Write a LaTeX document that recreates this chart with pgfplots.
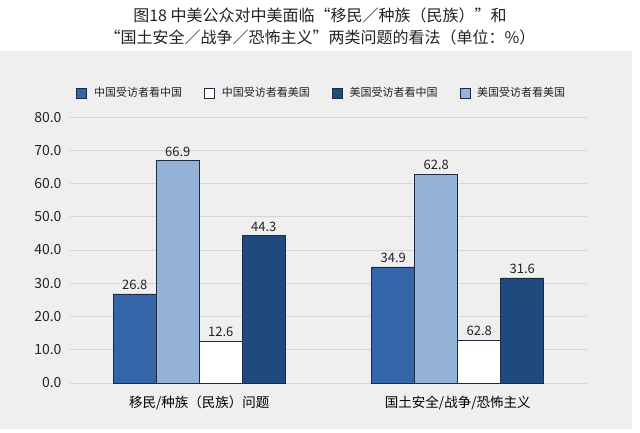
\documentclass[border=0pt]{standalone}
\usepackage{fontspec}
\setmainfont{Noto Sans CJK SC}
\usepackage{pgfplots}
\pgfplotsset{compat=1.18}
\definecolor{cblue}{HTML}{3465A8}
\definecolor{clight}{HTML}{95B3D7}
\definecolor{cdark}{HTML}{1F4A7E}
\definecolor{cedge}{HTML}{1C2B40}
\definecolor{panel}{HTML}{EFEFEF}
\definecolor{gridc}{HTML}{D6D6D6}
\definecolor{txt}{HTML}{222222}
\pgfplotsset{
  mybar/.style 2 args={ybar, bar width=43pt, draw=cedge, line width=0.7pt, fill=#1, bar shift=#2,
    legend image code/.code={\draw[##1, line width=0.7pt] (0pt,-5pt) rectangle (10pt,5pt); \path (13pt,0pt);},
    nodes near coords, point meta=explicit symbolic,
    every node near coord/.append style={font=\fontsize{13}{15}\selectfont, text=txt, inner sep=4pt, xshift=#2}},
}
\begin{document}
\begin{tikzpicture}
\path[use as bounding box] (0pt,0pt) rectangle (640pt,432pt);
\fill[panel] (0pt,3pt) rectangle (632pt,381pt);
\node[font=\fontsize{16}{18}\selectfont, text=txt] at (320pt,417pt) {图18\ 中美公众对中美面临“移民／种族（民族）”和};
\node[font=\fontsize{16}{18}\selectfont, text=txt] at (320pt,395pt) {“国土安全／战争／恐怖主义”两类问题的看法（单位：\%）};
\begin{axis}[
  at={(70pt,49pt)}, anchor=south west,
  scale only axis, width=517pt, height=266pt,
  xmin=-0.5, xmax=1.5, ymin=0, ymax=80,
  xtick={0,1}, xticklabels={移民/种族（民族）问题, 国土安全/战争/恐怖主义},
  ytick={0,10,...,80},
  axis line style={draw=none}, tick style={draw=none},
  ymajorgrids, grid style={gridc, line width=0.9pt},
  /pgf/number format/assume math mode=true,
  yticklabel style={font=\fontsize{14}{16}\selectfont, text=txt, xshift=-5pt, /pgf/number format/.cd, fixed, fixed zerofill, precision=1},
  xticklabel style={font=\fontsize{13.5}{16}\selectfont, text=black, yshift=-9pt},
  legend columns=4,
  legend style={draw=none, fill=none, inner sep=0pt, at={(0.012,1.090)}, anchor=west,
    font=\fontsize{11}{13}\selectfont, text=txt,
    nodes={inner xsep=4pt},
    /tikz/every even column/.append style={column sep=18pt}},
  legend cell align=left,
  clip=false,
]
\addplot[mybar={cblue}{-64.5pt}] coordinates {(0,26.8) [26.8] (1,34.9) [34.9]};
\addplot[mybar={white}{21.5pt}] coordinates {(0,12.6) [12.6] (1,12.8) [62.8]};
\addplot[mybar={cdark}{64.5pt}] coordinates {(0,44.3) [44.3] (1,31.6) [31.6]};
\addplot[mybar={clight}{-21.5pt}] coordinates {(0,66.9) [66.9] (1,62.8) [62.8]};
\legend{中国受访者看中国, 中国受访者看美国, 美国受访者看中国, 美国受访者看美国}
\end{axis}
\end{tikzpicture}
\end{document}
